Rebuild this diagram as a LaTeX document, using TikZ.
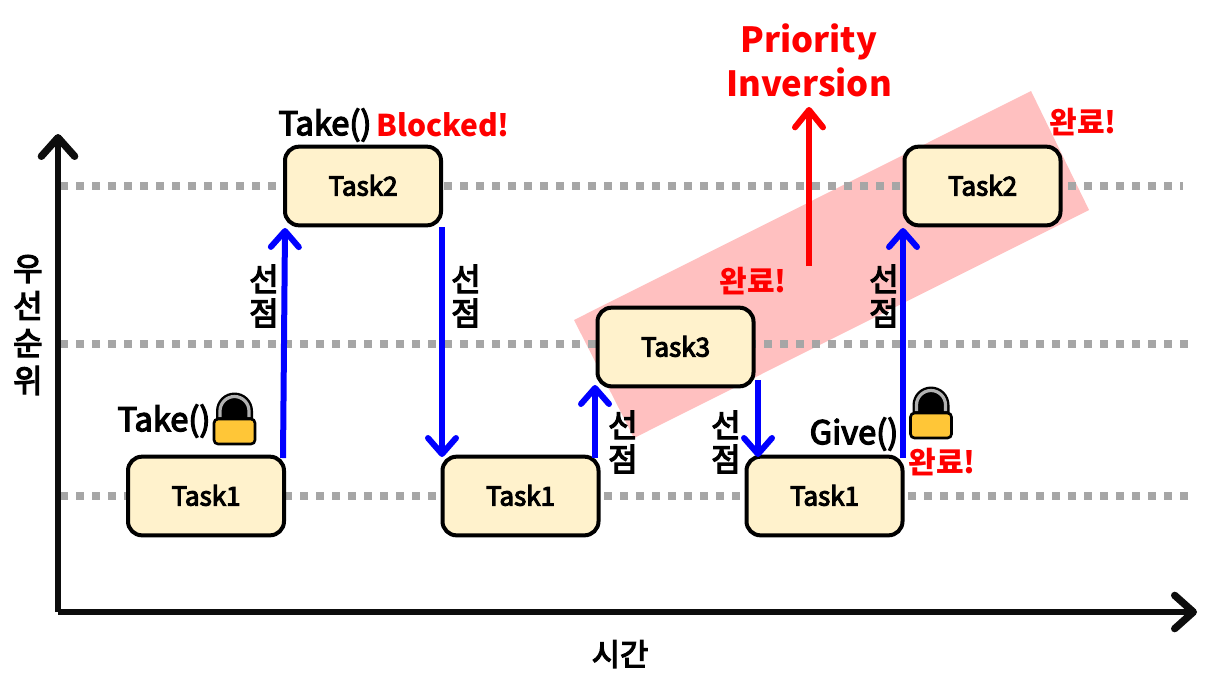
\documentclass[tikz,border=0pt]{standalone}
\usepackage{fontspec}
\setmainfont{Noto Sans CJK KR}
\newfontfamily\medfont[FakeBold=4]{Noto Sans CJK KR}
\usetikzlibrary{arrows.meta}
\definecolor{boxfill}{HTML}{FFF2CC}
\definecolor{gridgray}{HTML}{A6A6A6}
\definecolor{pinkband}{HTML}{FFC0C0}
\definecolor{lockgold}{HTML}{FFC637}
\tikzset{
  x=0.75pt,y=-0.75pt,
  taskbox/.style={draw=black,line width=3pt,fill=boxfill,rounded corners=10.5pt,minimum width=117pt,minimum height=59pt,inner sep=0pt,font=\fontsize{19.5}{22}\selectfont\medfont},
  gridline/.style={draw=gridgray,line width=6pt,dash pattern=on 6pt off 6pt},
  axisline/.style={draw=black!95,line width=4.5pt,-{Straight Barb[length=14pt,width=25pt,line width=5.5pt,round]}},
  preempt/.style={draw=blue,line width=4.5pt,-{Straight Barb[length=12pt,width=21pt,line width=4.5pt,round]}},
  invert/.style={draw=red,line width=4.5pt,-{Straight Barb[length=13pt,width=21pt,line width=4.5pt,round]}},
  blk/.style={inner sep=0pt,font=\fontsize{24.5}{28}\selectfont\medfont},
  redtxt/.style={inner sep=0pt,text=red,font=\fontsize{22.5}{27}\selectfont\bfseries},
  vlabel/.style={inner sep=0pt,align=center,font=\fontsize{24}{25.5}\selectfont\medfont},
}
\newcommand{\padlock}[3]{%
  \begin{scope}[shift={(#1,#2)}]
    \fill[black,name=#3] (-18.5,2) -- (-18.5,-7) arc[start angle=180,end angle=0,x radius=18.5,y radius=-18.5] -- (18.5,2) -- cycle;
    \draw[line width=2.4pt,draw=gray!60] (-14.5,-1) -- (-14.5,-7) arc[start angle=180,end angle=0,x radius=14.5,y radius=-14.5] -- (14.5,-1);
    \draw[draw=black,line width=2pt,fill=lockgold,rounded corners=3pt] (-20.5,1) rectangle (20.5,26);
  \end{scope}}
\begin{document}
\begin{tikzpicture}
\useasboundingbox (0,0) rectangle (1205,693);
\fill[white] (0,0) rectangle (1205,693);
\fill[pinkband] (574,320) -- (1031,91) -- (1089,210) -- (634,438) -- cycle;
\coordinate (g1l) at (60,186); \coordinate (g1r) at (1183,186);
\coordinate (g2l) at (60,344); \coordinate (g2r) at (1190,344);
\coordinate (g3l) at (60,496); \coordinate (g3r) at (1190,496);
\draw[gridline] (g1l) -- (g1r);
\draw[gridline] (g2l) -- (g2r);
\draw[gridline] (g3l) -- (g3r);
\coordinate (org) at (58,612); \coordinate (ytop) at (58,134); \coordinate (xend) at (1197,612);
\draw[axisline] (org) -- (ytop);
\draw[axisline] (org) -- (xend);
\node[taskbox] (t1a) at (206,496) {\raisebox{1.2pt}{Task1}};
\node[taskbox] (t2a) at (363,186) {\raisebox{1.2pt}{Task2}};
\node[taskbox] (t1b) at (520.5,496) {\raisebox{1.2pt}{Task1}};
\node[taskbox] (t3) at (675.5,347) {\raisebox{1.2pt}{Task3}};
\node[taskbox] (t1c) at (824.5,496) {\raisebox{1.2pt}{Task1}};
\node[taskbox] (t2b) at (982.5,186) {\raisebox{1.2pt}{Task2}};
\coordinate (a1s) at (283,458); \coordinate (a1e) at (285,228);
\draw[preempt] (a1s) -- (a1e);
\coordinate (a2s) at (442,227); \coordinate (a2e) at (442,457);
\draw[preempt] (a2s) -- (a2e);
\coordinate (a3s) at (595,458); \coordinate (a3e) at (595,385);
\draw[preempt] (a3s) -- (a3e);
\coordinate (a4s) at (758,380); \coordinate (a4e) at (758,457);
\draw[preempt] (a4s) -- (a4e);
\coordinate (a5s) at (903,458); \coordinate (a5e) at (903,228);
\draw[preempt] (a5s) -- (a5e);
\coordinate (ris) at (809,266); \coordinate (rie) at (809,107);
\draw[invert] (ris) -- (rie);
\padlock{234.5}{418}{lk1}
\padlock{931}{412}{lk2}
\node[blk] (take1) at (164,421) {Take()};
\node[blk] (take2) at (325,125) {Take()};
\node[blk] (give) at (854,434) {Give()};
\node[redtxt] (blocked) at (443,125) {Blocked!};
\node[redtxt] (done1) at (1083,122) {완료!};
\node[redtxt] (done2) at (753,281) {완료!};
\node[redtxt] (done3) at (942,462) {완료!};
\node[vlabel] (v1) at (264,296) {선\\점};
\node[vlabel] (v2) at (466,296) {선\\점};
\node[vlabel] (v3) at (623,442) {선\\점};
\node[vlabel] (v4) at (726,442) {선\\점};
\node[vlabel] (v5) at (884,296) {선\\점};
\node[vlabel,font=\fontsize{24}{28}\selectfont\medfont] (ylab) at (28,325) {우\\선\\순\\위};
\node[inner sep=0pt,font=\fontsize{23}{26}\selectfont\medfont] (xlab) at (620,654) {시간};
\node[inner sep=0pt,align=center,text=red,font=\fontsize{26}{33}\selectfont\bfseries] (pi) at (809,60) {Priority\\Inversion};
\end{tikzpicture}
\end{document}
